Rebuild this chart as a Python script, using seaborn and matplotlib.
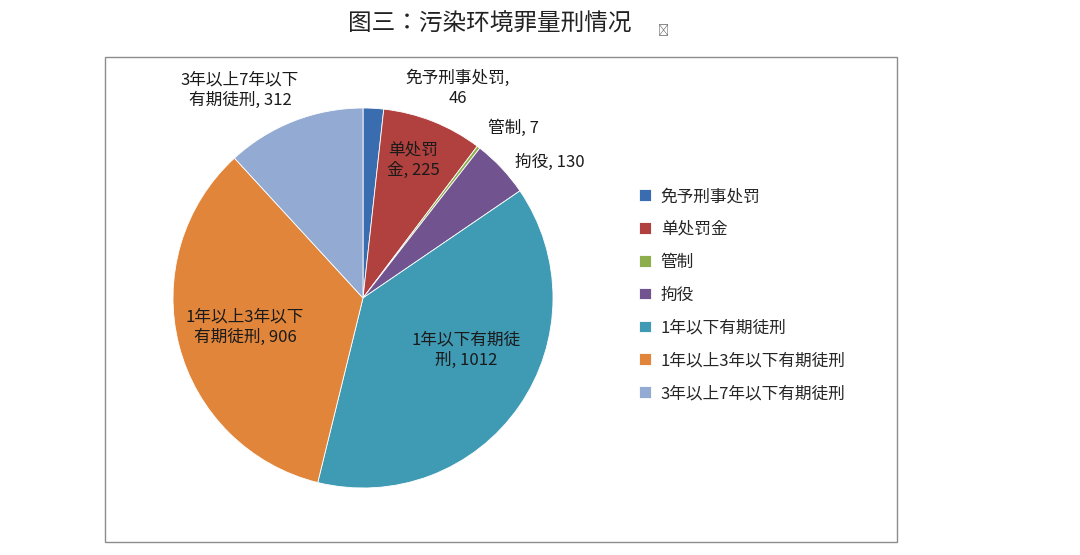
import matplotlib
matplotlib.use("Agg")
import matplotlib.pyplot as plt
import seaborn as sns
from matplotlib.patches import Rectangle
from matplotlib import font_manager

categories = ["免予刑事处罚", "单处罚金", "管制", "拘役", "1年以下有期徒刑", "1年以上3年以下有期徒刑", "3年以上7年以下有期徒刑"]
values = [46, 225, 7, 130, 1012, 906, 312]
label_texts = ["免予刑事处罚,\n46", "单处罚\n金, 225", "管制, 7", "拘役, 130",
               "1年以下有期徒\n刑, 1012", "1年以上3年以下\n有期徒刑, 906", "3年以上7年以下\n有期徒刑, 312"]
colors = ["#3A6DAF", "#B0413E", "#8EAE4E", "#71548F", "#3F9AB4", "#E0853A", "#93AAD3"]

names = {f.name for f in font_manager.fontManager.ttflist}
cjk = [n for n in ["Noto Sans CJK SC", "Noto Sans CJK JP", "Noto Sans CJK TC", "Noto Sans CJK KR"] if n in names]
sns.set_theme(style="white", font="sans-serif",
              rc={"font.sans-serif": cjk + ["DejaVu Sans"]})

W, H = 1080, 555
fig = plt.figure(figsize=(10.8, 5.55), dpi=100)
fig.patch.set_facecolor("white")

def fx(x): return x / W
def fy(y): return 1 - y / H

fig.patches.append(Rectangle((fx(105), fy(542)), 792 / W, 485 / H, transform=fig.transFigure,
                             fill=False, edgecolor="#8c8c8c", lw=1))
fig.text(fx(490), fy(24), "图三：污染环境罪量刑情况", ha="center", va="center", fontsize=17, color="#222222")
fig.text(fx(663), fy(30), "↵", ha="center", va="center", fontsize=8, color="#666666")

ax = fig.add_axes([fx(363 - 190), fy(298 + 190), 380 / W, 380 / H])
wedges, _ = ax.pie(values, colors=colors, startangle=90, counterclock=False,
                   wedgeprops=dict(edgecolor="white", linewidth=0.6))
ax.set_xlim(-1, 1)
ax.set_ylim(-1, 1)
ax.set_aspect("equal")

pos = [(458, 88), (413, 160), (513, 128), (550, 162), (466, 350), (245, 327), (240, 90)]
for t, (x, y) in zip(label_texts, pos):
    fig.text(fx(x), fy(y), t, ha="center", va="center", fontsize=12, color="#1a1a1a", linespacing=1.25)

fig.legend(wedges, categories, loc="upper left", bbox_to_anchor=(fx(624), fy(173)),
           frameon=False, fontsize=12, handlelength=0.7, handleheight=0.7,
           handletextpad=0.6, labelspacing=0.95)

fig.savefig("out.png", dpi=100)
